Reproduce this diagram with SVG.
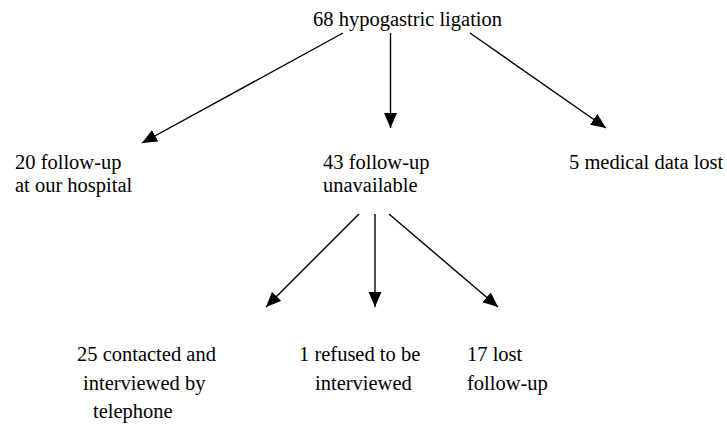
<svg xmlns="http://www.w3.org/2000/svg" width="727" height="439" viewBox="0 0 727 439">
<style>
text { font-family: "Liberation Serif", "Times New Roman", serif; font-size: 20.5px; fill: #000; }
.c { stroke: #000; stroke-width: 1.4; fill: none; }
</style>
<defs>
<marker id="ah" markerUnits="userSpaceOnUse" markerWidth="16" markerHeight="14" refX="15" refY="6.5" orient="auto">
<path d="M0,0 L15,6.5 L0,13 z" fill="#000"/>
</marker>
</defs>
<rect width="727" height="439" fill="#fff"/>
<g id="connectors">
<line class="c" x1="343" y1="33" x2="142" y2="143" marker-end="url(#ah)"/>
<line class="c" x1="390.5" y1="33" x2="390.5" y2="128" marker-end="url(#ah)"/>
<line class="c" x1="470" y1="33" x2="606" y2="128" marker-end="url(#ah)"/>
<line class="c" x1="359" y1="214" x2="266" y2="307" marker-end="url(#ah)"/>
<line class="c" x1="375" y1="214" x2="375" y2="307" marker-end="url(#ah)"/>
<line class="c" x1="389" y1="214" x2="498" y2="307" marker-end="url(#ah)"/>
</g>
<g id="root"><text x="313" y="26">68 hypogastric ligation</text></g>
<g id="hospital"><text x="15" y="169">20 follow-up</text><text x="15" y="192">at our hospital</text></g>
<g id="unavailable"><text x="323" y="169">43 follow-up</text><text x="323" y="192">unavailable</text></g>
<g id="lost"><text x="569" y="169">5 medical data lost</text></g>
<g id="contacted"><text x="77" y="361">25 contacted and</text><text x="83" y="389.5">interviewed by</text><text x="93" y="418">telephone</text></g>
<g id="refused"><text x="299" y="361">1 refused to be</text><text x="315" y="389.5">interviewed</text></g>
<g id="lostfu"><text x="467" y="361">17 lost</text><text x="467" y="389.5">follow-up</text></g>
</svg>
